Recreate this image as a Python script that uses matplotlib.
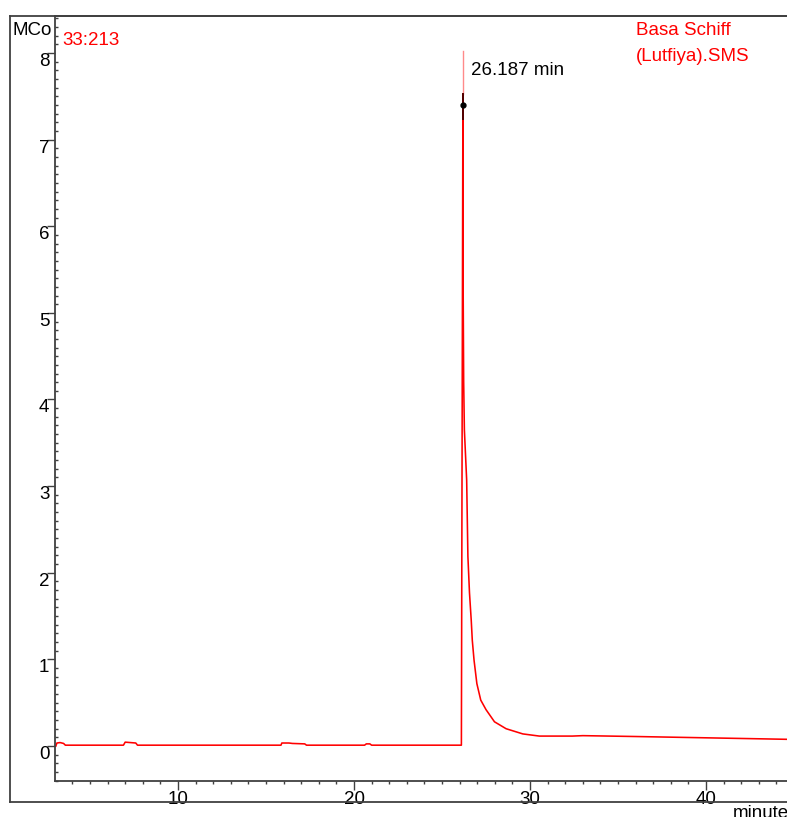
import matplotlib.pyplot as plt
from matplotlib.lines import Line2D
from matplotlib.ticker import MultipleLocator

plt.rcParams['font.family'] = ['Liberation Sans', 'DejaVu Sans']

# Dane chromatogramu (czas [min], sygnał [MCounts])
czas = [3.06, 3.12, 3.30, 3.50, 3.60, 6.90, 7.00, 7.30, 7.60, 7.70,
        15.85, 15.90, 16.30, 16.50, 17.20, 17.30, 20.60, 20.70, 20.90, 21.00,
        26.10, 26.187, 26.20, 26.23, 26.27, 26.40, 26.47, 26.56, 26.66, 26.72,
        26.82, 26.98, 27.20, 27.50, 27.98, 28.64, 29.59, 30.53, 32.40, 33.00,
        36.00, 40.00, 44.80]
sygnal = [0.00, 0.035, 0.04, 0.03, 0.01, 0.01, 0.045, 0.04, 0.035, 0.01,
          0.01, 0.035, 0.035, 0.03, 0.025, 0.01, 0.01, 0.025, 0.025, 0.01,
          0.01, 7.53, 5.30, 4.20, 3.65, 3.07, 2.19, 1.77, 1.45, 1.22,
          0.99, 0.72, 0.53, 0.42, 0.28, 0.20, 0.14, 0.115, 0.115, 0.12,
          0.11, 0.095, 0.077]

# Pik i jego oznaczenie
czas_piku = 26.187
wysokosc_znacznika = 7.40
gora_piku = 7.53
gora_linii = 8.02

CZERWONY = '#ff0000'
SZARY = '#404040'
ROZMIAR = 13.5
W, H = 787, 817


def fx(px):
    return px / W


def fy(py):
    return 1 - py / H


fig = plt.figure(figsize=(W / 100, H / 100), dpi=100)
ax = fig.add_axes([fx(55.5), fy(780.7), fx(790 - 55.5), (780.7 - 15.7) / H])

# Ramka wokół całego wykresu
for xs, ys in [([9.5, 9.5], [15.7, 802.3]),
               ([9.5, 800], [15.7, 15.7]),
               ([9.5, 800], [802.3, 802.3])]:
    fig.add_artist(Line2D([fx(x) for x in xs], [fy(y) for y in ys],
                          color=SZARY, lw=1.3, transform=fig.transFigure))

# Sygnał
ax.plot(czas, sygnal, color=CZERWONY, lw=1.15)

# Znacznik piku
ax.plot([czas_piku, czas_piku], [gora_piku, gora_linii], color='#ff8a8a', lw=1.0)
ax.plot([czas_piku, czas_piku], [7.24, gora_piku], color='#500000', lw=1.4)
ax.plot([czas_piku], [wysokosc_znacznika], 'o', color='black', ms=3.5)
ax.text(czas_piku + 0.45, 7.80, f'{czas_piku} min', fontsize=ROZMIAR,
        va='center', ha='left')

ax.set_xlim(3.04, 44.77)
ax.set_ylim(-0.40, 8.43)

ax.xaxis.set_major_locator(MultipleLocator(10))
ax.xaxis.set_minor_locator(MultipleLocator(1))
ax.yaxis.set_major_locator(MultipleLocator(1))
ax.yaxis.set_minor_locator(MultipleLocator(0.1))

for strona in ['left', 'bottom', 'top', 'right']:
    ax.spines[strona].set_color(SZARY)
    ax.spines[strona].set_linewidth(1.3)

ax.tick_params(axis='x', which='major', direction='out', length=6.5, width=1,
               color=SZARY, labelsize=ROZMIAR, pad=1.2)
ax.tick_params(axis='x', which='minor', direction='out', length=2.2, width=1,
               color=SZARY)
ax.tick_params(axis='y', which='major', direction='out', length=5.8, width=1,
               color=SZARY, labelsize=ROZMIAR, pad=-1.4)
ax.tick_params(axis='y', which='minor', direction='in', length=2.4, width=1,
               color=SZARY)
for etykieta in ax.get_yticklabels():
    etykieta.set_va('top')

# Opisy
fig.text(fx(12), fy(30.7), 'MCo', fontsize=ROZMIAR, va='center', ha='left')
fig.text(fx(62), fy(40.7), '33:213', fontsize=ROZMIAR, color=CZERWONY, va='center', ha='left')
fig.text(fx(636), fy(30.7), 'Basa Schiff', fontsize=ROZMIAR, color=CZERWONY, va='center', ha='left')
fig.text(fx(636), fy(56.7), '(Lutfiya).SMS', fontsize=ROZMIAR, color=CZERWONY, va='center', ha='left')
fig.text(fx(733), fy(805), 'minute', fontsize=ROZMIAR, va='top', ha='left')

plt.savefig('out.png', dpi=100)
